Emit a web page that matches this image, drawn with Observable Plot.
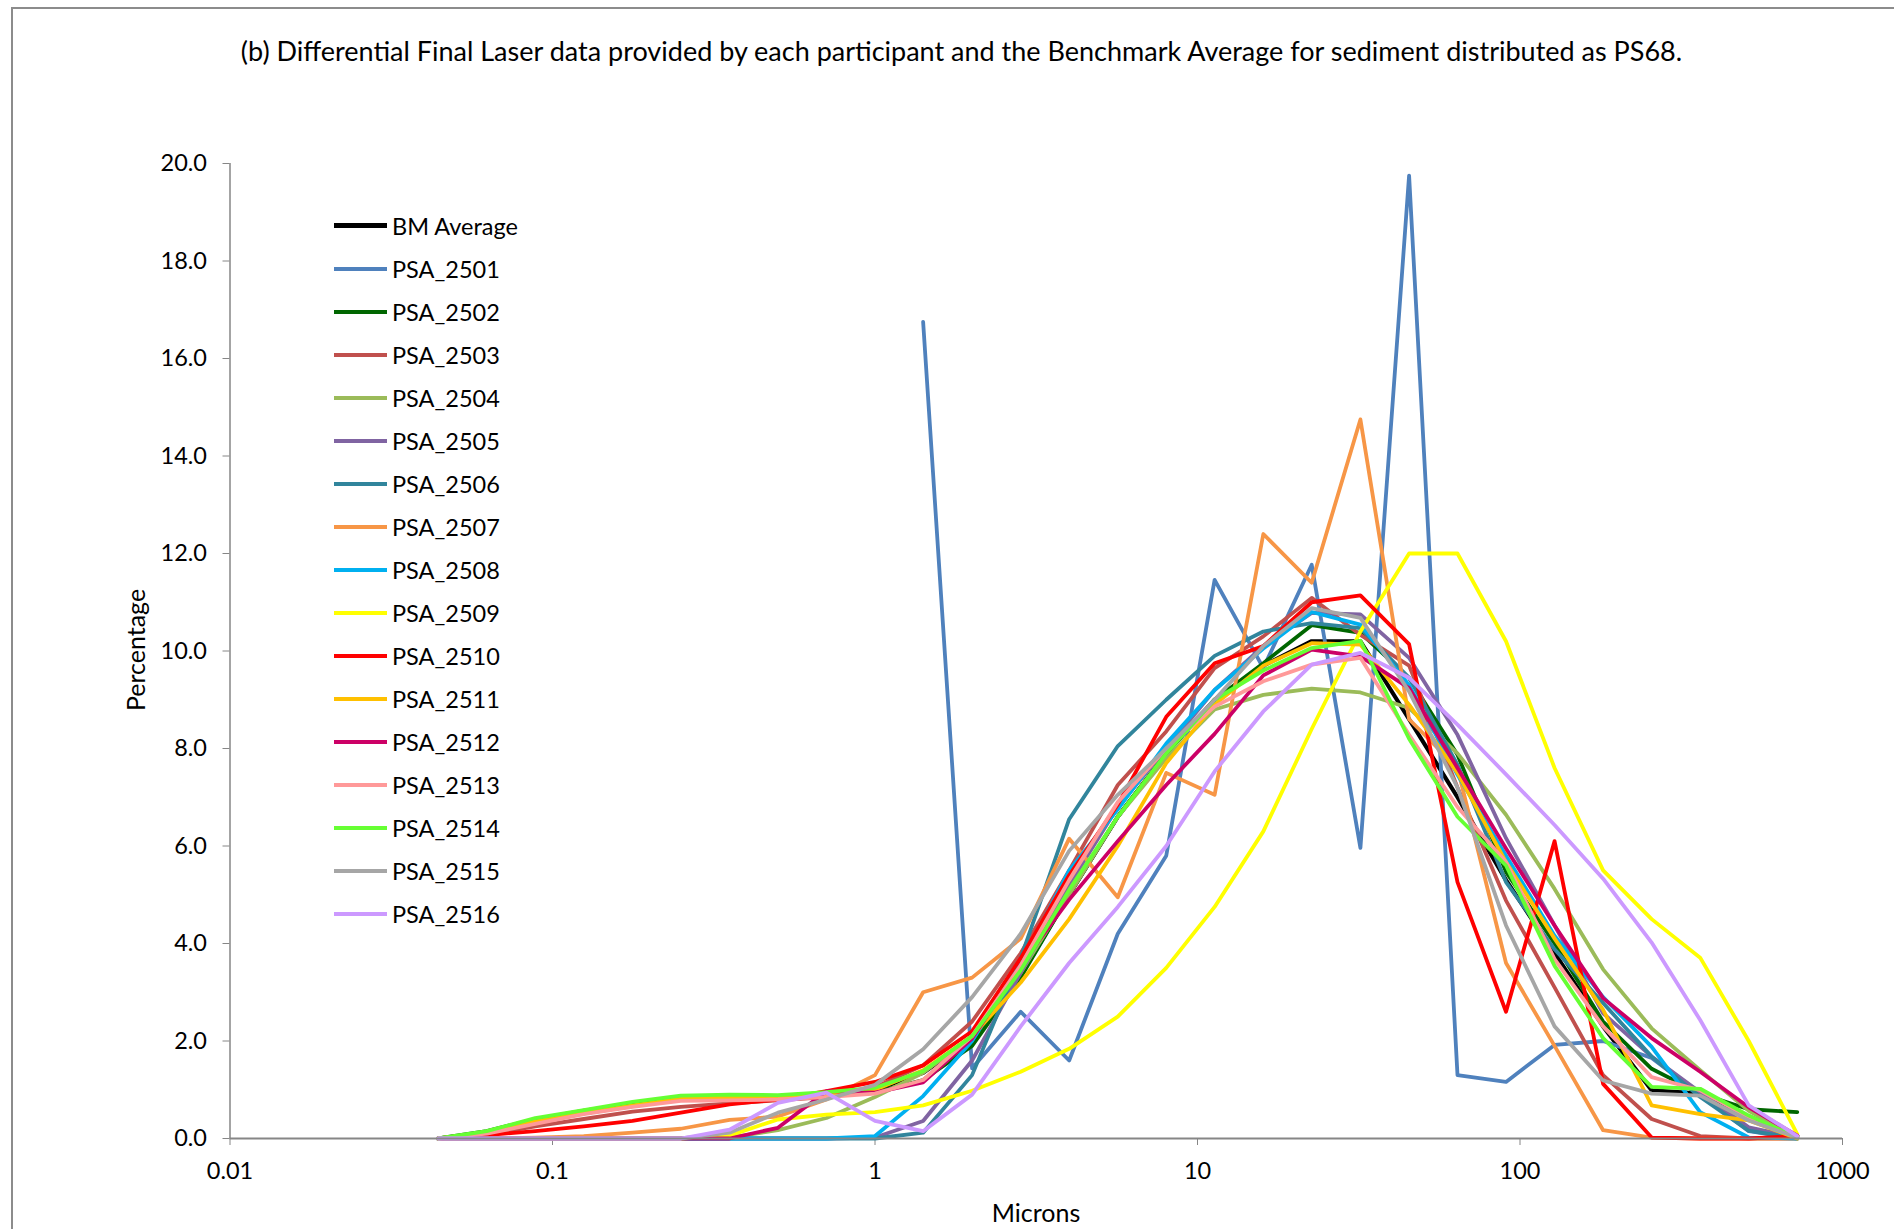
<!DOCTYPE html>
<html><head><meta charset="utf-8">
<script src="https://cdn.jsdelivr.net/npm/d3@7"></script>
<script src="https://cdn.jsdelivr.net/npm/@observablehq/plot@0.6"></script>
<style>
html,body{margin:0;padding:0;background:#fff;}
#wrap{position:relative;width:1894px;height:1229px;overflow:hidden;font-family:Lato,"Open Sans",sans-serif;color:#000;}
#frame{position:absolute;left:11px;top:7px;width:3000px;height:3000px;border-left:2px solid #8c8c8c;border-top:2px solid #8c8c8c;}
#title{position:absolute;top:34px;left:0;width:1923px;text-align:center;font-size:27px;white-space:nowrap;}
#chart{position:absolute;left:0;top:0;}
#ylab{position:absolute;left:135px;top:650px;transform:translate(-50%,-50%) rotate(-90deg);font-size:25px;white-space:nowrap;}
#xlab{position:absolute;left:1036px;top:1212px;transform:translate(-50%,-50%);font-size:25px;white-space:nowrap;}
#legend{position:absolute;left:334px;top:204px;}
.row{height:43px;display:flex;align-items:center;font-size:23.5px;white-space:nowrap;}
.sw{width:53px;height:4px;margin-right:5px;}
</style>
</head><body>
<div id="wrap">
  <div id="frame"></div>
  <div id="chart"></div>
  <div id="title"></div>
  <div id="ylab"></div>
  <div id="xlab"></div>
  <div id="legend"></div>
</div>
<script>
const titleText = "(b) Differential Final Laser data provided by each participant and the Benchmark Average for sediment distributed as PS68.";
const xTitle = "Microns";
const yTitle = "Percentage";

const sizes = [0.0442, 0.0625, 0.0884, 0.125, 0.177, 0.25, 0.354, 0.5, 0.707, 1.0, 1.41, 2.0, 2.83, 4.0, 5.66, 8.0, 11.3, 16.0, 22.6, 32.0, 45.3, 64.0, 90.5, 128, 181, 256, 362, 512, 724];

const bmAverage = [0, 0.12, 0.35, 0.52, 0.67, 0.8, 0.85, 0.85, 0.88, 1.0, 1.35, 2.05, 3.35, 5.0, 6.6, 7.9, 9.0, 9.7, 10.2, 10.2, 8.6, 7.0, 5.3, 3.8, 2.3, 0.99, 0.92, 0.45, 0.05];
const psa2501 = [null, null, null, null, null, null, null, null, null, null, 16.75, 1.44, 2.6, 1.6, 4.2, 5.8, 11.46, 9.65, 11.77, 5.96, 19.75, 1.3, 1.16, 1.92, 2.0, 1.65, 0.9, 0.15, 0];
const psa2502 = [0, 0.15, 0.4, 0.57, 0.72, 0.85, 0.88, 0.85, 0.87, 0.95, 1.2, 1.9, 3.3, 5.0, 6.6, 7.9, 9.0, 9.75, 10.53, 10.37, 9.45, 7.87, 5.47, 4.0, 2.4, 1.43, 0.92, 0.6, 0.54];
const psa2503 = [0, 0.08, 0.25, 0.4, 0.55, 0.65, 0.72, 0.78, 0.85, 1.05, 1.5, 2.4, 3.8, 5.5, 7.25, 8.35, 9.65, 10.3, 11.09, 10.33, 9.7, 7.2, 4.88, 3.1, 1.3, 0.4, 0.05, 0, 0];
const psa2504 = [0, 0, 0, 0, 0, 0, 0.02, 0.17, 0.42, 0.85, 1.35, 2.1, 3.4, 5.0, 6.6, 7.8, 8.8, 9.1, 9.23, 9.15, 8.83, 7.9, 6.64, 5.12, 3.47, 2.26, 1.4, 0.57, 0.02];
const psa2505 = [0, 0, 0, 0, 0, 0, 0, 0, 0, 0.02, 0.36, 1.6, 3.4, 5.2, 6.8, 8.0, 9.2, 10.1, 10.78, 10.75, 9.86, 8.28, 6.16, 4.37, 2.57, 1.68, 0.95, 0.23, 0.02];
const psa2506 = [0, 0, 0, 0, 0, 0, 0, 0, 0, 0, 0.12, 1.3, 3.7, 6.55, 8.05, 9.0, 9.9, 10.4, 10.57, 10.47, 9.45, 7.67, 5.26, 3.88, 2.78, 1.68, 0.85, 0.16, 0];
const psa2507 = [0, 0, 0.02, 0.05, 0.12, 0.2, 0.38, 0.45, 0.8, 1.3, 3.0, 3.3, 4.1, 6.15, 4.95, 7.5, 7.05, 12.4, 11.4, 14.75, 8.6, 7.6, 3.6, 1.9, 0.17, 0.02, 0, 0, 0];
const psa2508 = [0, 0, 0, 0, 0, 0, 0, 0, 0, 0.05, 0.87, 2.0, 3.6, 5.5, 6.75, 8.1, 9.2, 10.05, 10.8, 10.54, 9.3, 7.46, 5.8, 4.16, 2.9, 1.88, 0.54, 0.02, 0];
const psa2509 = [0, 0, 0, 0, 0, 0, 0.06, 0.39, 0.49, 0.54, 0.68, 0.98, 1.37, 1.84, 2.5, 3.5, 4.75, 6.3, 8.4, 10.4, 12.0, 12.0, 10.2, 7.6, 5.5, 4.5, 3.71, 2.0, 0.09];
const psa2510 = [0, 0.07, 0.15, 0.25, 0.36, 0.53, 0.7, 0.8, 0.97, 1.16, 1.5, 2.2, 3.7, 5.4, 6.85, 8.65, 9.75, 10.1, 11.0, 11.14, 10.14, 5.26, 2.6, 6.1, 1.12, 0.02, 0, 0, 0.05];
const psa2511 = [0, 0.12, 0.35, 0.52, 0.68, 0.82, 0.85, 0.85, 0.9, 1.0, 1.4, 2.1, 3.2, 4.5, 6.0, 7.7, 8.9, 9.7, 10.16, 10.13, 8.9, 7.5, 5.67, 4.1, 2.64, 0.68, 0.5, 0.37, 0];
const psa2512 = [0, 0, 0, 0, 0, 0, 0, 0.22, 0.97, 0.94, 1.15, 2.05, 3.55, 4.9, 6.1, 7.25, 8.3, 9.5, 10.03, 9.89, 9.24, 7.6, 5.95, 4.37, 2.88, 2.06, 1.37, 0.64, 0.06];
const psa2513 = [0, 0.1, 0.3, 0.5, 0.65, 0.77, 0.78, 0.8, 0.85, 0.92, 1.2, 2.1, 3.55, 5.3, 6.9, 8.0, 8.86, 9.38, 9.72, 9.86, 8.28, 6.8, 5.67, 3.68, 2.3, 1.26, 0.99, 0.43, 0.03];
const psa2514 = [0, 0.15, 0.42, 0.58, 0.75, 0.88, 0.9, 0.89, 0.95, 1.04, 1.38, 2.1, 3.45, 5.1, 6.6, 7.9, 9.0, 9.6, 10.06, 10.21, 8.2, 6.6, 5.6, 3.54, 2.06, 1.06, 1.02, 0.47, 0.02];
const psa2515 = [0, 0, 0, 0, 0, 0, 0.12, 0.53, 0.8, 1.1, 1.83, 2.9, 4.2, 5.9, 7.05, 8.0, 9.0, 10.1, 10.88, 10.68, 9.17, 7.2, 4.37, 2.3, 1.19, 0.92, 0.88, 0.37, 0.02];
const psa2516 = [0, 0, 0, 0, 0, 0, 0.18, 0.73, 0.94, 0.36, 0.15, 0.9, 2.3, 3.6, 4.75, 6.0, 7.53, 8.76, 9.72, 9.96, 9.45, 8.49, 7.47, 6.43, 5.33, 4.02, 2.43, 0.68, 0.05];

const seriesNames = ["BM Average", "PSA_2501", "PSA_2502", "PSA_2503", "PSA_2504", "PSA_2505", "PSA_2506", "PSA_2507", "PSA_2508", "PSA_2509", "PSA_2510", "PSA_2511", "PSA_2512", "PSA_2513", "PSA_2514", "PSA_2515", "PSA_2516"];
const seriesValues = [bmAverage, psa2501, psa2502, psa2503, psa2504, psa2505, psa2506, psa2507, psa2508, psa2509, psa2510, psa2511, psa2512, psa2513, psa2514, psa2515, psa2516];
const seriesColors = ["#000000", "#4F81BD", "#006600", "#C0504D", "#9BBB59", "#8064A2", "#31859C", "#F79646", "#00B0F0", "#FFFF00", "#FF0000", "#FFC000", "#CC0066", "#FF9999", "#66FF33", "#A6A6A6", "#CC99FF"];

const xTicks = [0.01, 0.1, 1, 10, 100, 1000];
const xTickLabels = ["0.01", "0.1", "1", "10", "100", "1000"];
const yTicks = [0, 2, 4, 6, 8, 10, 12, 14, 16, 18, 20];

const font = "Lato, 'Open Sans', sans-serif";

const lineMarks = seriesNames.map((name, i) => {
  const rows = sizes.map((x, j) => ({x, y: seriesValues[i][j], name})).filter(d => d.y !== null);
  return Plot.line(rows, {x: "x", y: "y", stroke: seriesColors[i], strokeWidth: i === 0 ? 4.2 : 3.8, strokeLinejoin: "round"});
});

const chart = Plot.plot({
  width: 1894,
  height: 1229,
  marginLeft: 229.5,
  marginRight: 52,
  marginTop: 163,
  marginBottom: 91,
  x: {type: "log", domain: [0.01, 1000]},
  y: {domain: [0, 20]},
  style: {fontFamily: font, fontSize: "23.5px", background: "transparent", color: "#000", overflow: "visible"},
  marks: [
    Plot.axisX({ticks: xTicks, tickFormat: (d) => xTickLabels[xTicks.indexOf(d)], tickSize: 7, tickPadding: 17, stroke: "#868686", fill: "#000", label: null, fontSize: 23.5}),
    Plot.axisY({ticks: yTicks, tickFormat: d3.format(".1f"), tickSize: 7, tickPadding: 16, stroke: "#868686", fill: "#000", label: null, fontSize: 23.5}),
    ...lineMarks,
    Plot.ruleX([0.01], {stroke: "#868686", strokeWidth: 1.5}),
    Plot.ruleY([0], {stroke: "#868686", strokeWidth: 2})
  ]
});
document.getElementById("chart").appendChild(chart);

document.getElementById("title").textContent = titleText;
document.getElementById("xlab").textContent = xTitle;
document.getElementById("ylab").textContent = yTitle;

const legend = document.getElementById("legend");
seriesNames.forEach((name, i) => {
  const row = document.createElement("div");
  row.className = "row";
  const sw = document.createElement("div");
  sw.className = "sw";
  sw.style.background = seriesColors[i];
  if (i === 0) sw.style.height = "5px";
  const t = document.createElement("span");
  t.textContent = name;
  row.appendChild(sw);
  row.appendChild(t);
  legend.appendChild(row);
});
</script>
</body></html>
